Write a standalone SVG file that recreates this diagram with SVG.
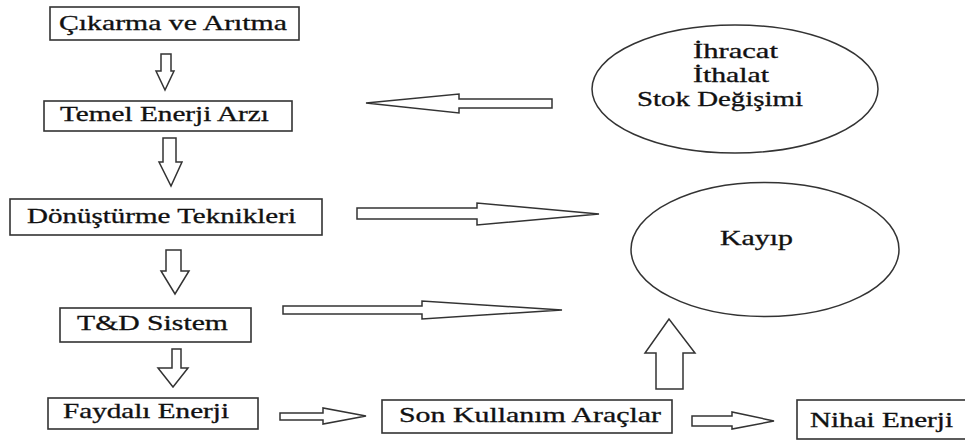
<svg xmlns="http://www.w3.org/2000/svg" width="965" height="441" viewBox="0 0 965 441">
<style>
.box{fill:#fff;stroke:#333;stroke-width:1.6}
.ell{fill:#fff;stroke:#333;stroke-width:1.5}
text{font-family:'Liberation Serif','DejaVu Serif','Times New Roman',serif;font-size:20px;fill:#111;stroke:#111;stroke-width:0.3}
.arr{fill:#fff;stroke:#333;stroke-width:1.5;stroke-linejoin:miter}
</style>
<rect width="965" height="441" fill="#fff"/>
<g id="n1"><rect class="box" x="50" y="7" width="249" height="33"/><text transform="translate(59,30) scale(1.45,1)" textLength="157.2" lengthAdjust="spacingAndGlyphs">Çıkarma ve Arıtma</text></g>
<g id="n2"><rect class="box" x="44" y="101" width="248" height="30"/><text transform="translate(60,121) scale(1.45,1)" textLength="144.1" lengthAdjust="spacingAndGlyphs">Temel Enerji Arzı</text></g>
<g id="n3"><rect class="box" x="10" y="199" width="312" height="36"/><text transform="translate(27,223) scale(1.45,1)" textLength="185.5" lengthAdjust="spacingAndGlyphs">Dönüştürme Teknikleri</text></g>
<g id="n4"><rect class="box" x="60" y="308" width="191" height="34"/><text transform="translate(77,330) scale(1.45,1)" textLength="104.1" lengthAdjust="spacingAndGlyphs">T&amp;D Sistem</text></g>
<g id="n5"><rect class="box" x="48" y="398" width="210" height="31"/><text transform="translate(63,418) scale(1.45,1)" textLength="114.5" lengthAdjust="spacingAndGlyphs">Faydalı Enerji</text></g>
<g id="n6"><rect class="box" x="382" y="400" width="290" height="33"/><text transform="translate(399,422) scale(1.45,1)" textLength="180.7" lengthAdjust="spacingAndGlyphs">Son Kullanım Araçlar</text></g>
<g id="n7"><rect class="box" x="797" y="400" width="175" height="39"/><text transform="translate(810,427) scale(1.45,1)" textLength="98.6" lengthAdjust="spacingAndGlyphs">Nihai Enerji</text></g>
<g id="n8"><ellipse class="ell" cx="735" cy="89" rx="143" ry="64"/><text transform="translate(693,58) scale(1.45,1)" textLength="58.6" lengthAdjust="spacingAndGlyphs">İhracat</text><text transform="translate(693,82) scale(1.45,1)" textLength="52.4" lengthAdjust="spacingAndGlyphs">İthalat</text><text transform="translate(637,106) scale(1.45,1)" textLength="114.5" lengthAdjust="spacingAndGlyphs">Stok Değişimi</text></g>
<g id="n9"><ellipse class="ell" cx="765" cy="249.5" rx="134" ry="67"/><text transform="translate(720,245) scale(1.45,1)" textLength="50.3" lengthAdjust="spacingAndGlyphs">Kayıp</text></g>
<g id="connectors">
<polygon class="arr" points="161,54 171,54 171,71 174,71 165,90 156,71 161,71"/>
<polygon class="arr" points="163,138 176,138 176,162 182,162 171,186 159,162 163,162"/>
<polygon class="arr" points="166,250 181,250 181,271 189,271 175,294 161,271 166,271"/>
<polygon class="arr" points="172,349 181,349 181,368 188,368 173,387 158,368 172,368"/>
<polygon class="arr" points="552,99 459,99 459,94 366,103 459,113 459,108 552,108"/>
<polygon class="arr" points="357,208 477,208 477,203 599,214 477,225 477,219 357,219"/>
<polygon class="arr" points="283,306 422,306 422,301 562,310 422,319 422,314 283,314"/>
<polygon class="arr" points="280,413 323,413 323,408 366,416 323,424 323,420 280,420"/>
<polygon class="arr" points="692,416 732,416 732,412 774,421 732,429 732,426 692,426"/>
<polygon class="arr" points="656,389 656,353 645,353 669,319 695,353 683,353 683,389"/>
</g>
</svg>
